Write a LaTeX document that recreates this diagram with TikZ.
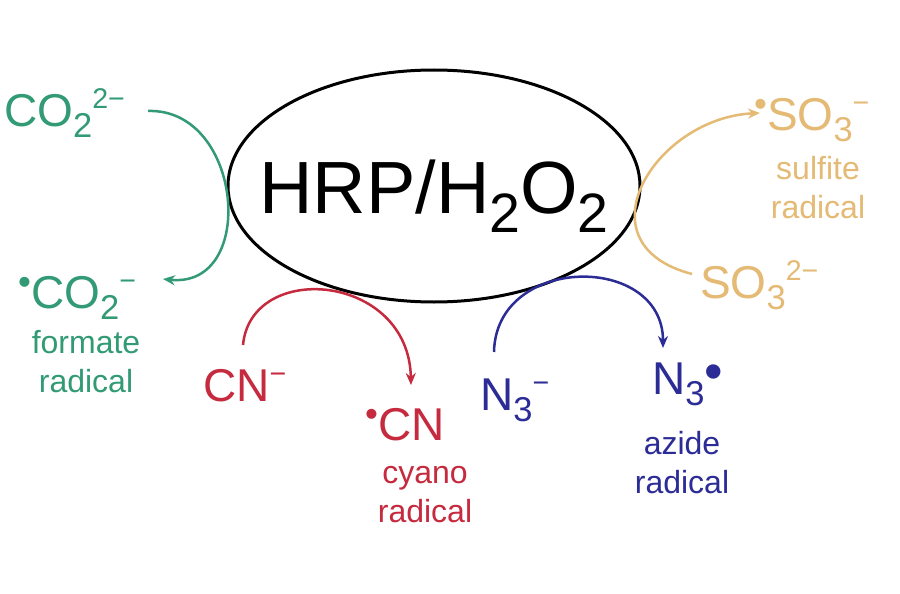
\documentclass[tikz,border=0pt]{standalone}
\usepackage{fontspec}
\setmainfont{Liberation Sans}
\usepackage{graphicx}
\usetikzlibrary{shapes.geometric,arrows.meta}
\definecolor{cgreen}{RGB}{50,154,116}
\definecolor{cred}{RGB}{198,42,62}
\definecolor{cblue}{RGB}{44,44,150}
\definecolor{corange}{RGB}{228,186,116}
\newcommand\sbt[1]{\raisebox{-0.26em}{\scalebox{0.75}{#1}}}
\newcommand\spt[1]{\raisebox{0.38em}{\scalebox{0.62}{#1}}}
\newcommand\rdot{\raisebox{0.3em}{\scalebox{0.8}{•}}}
\begin{document}
\begin{tikzpicture}[x=1pt,y=-1pt,
  species/.style={inner sep=0pt, anchor=base west, font=\fontsize{46}{50}\selectfont},
  lbl/.style={inner sep=0pt, anchor=base, align=center, font=\fontsize{32}{39}\selectfont},
  arr/.style={line width=2.5pt, -{Stealth[length=12pt,width=10pt]}}]
\useasboundingbox (0,0) rectangle (900,594);
\fill[white] (0,0) rectangle (900,594);

% central ellipse
\node[draw, ellipse, line width=3pt, minimum width=412pt, minimum height=232pt, inner sep=0pt] (hrp) at (434,186) {};
\node[inner sep=0pt, anchor=base, font=\fontsize{74}{80}\selectfont] (hrpt) at ([shift={(0,27)}]hrp.center) {HRP/H\sbt{2}O\sbt{2}};

% formate
\node[species, text=cgreen] (co2) at (4,126) {CO\sbt{2}\spt{2−}};
\node[species, text=cgreen] (co2r) at (18,308) {\rdot CO\sbt{2}\spt{−}};
\node[lbl, text=cgreen] (co2l) at (86,392) {formate\\radical};
\draw[arr, cgreen] ([shift={(144,-15)}]co2.base west) .. controls +(95,-3) and +(95,10) .. ([shift={(145,-29)}]co2r.base west);

% cyano
\node[species, text=cred] (cn) at (203,401) {CN\spt{−}};
\node[species, text=cred] (cnr) at (365,440) {\rdot CN};
\node[lbl, text=cred] (cnl) at (425,522) {cyano\\radical};
\draw[arr, cred] ([shift={(40,-56)}]cn.base west) .. controls +(8,-85) and +(-2,-112) .. ([shift={(46,-55)}]cnr.base west);

% azide
\node[species, text=cblue] (n3) at (480,410) {N\sbt{3}\spt{−}};
\node[species, text=cblue] (n3r) at (652,394) {N\sbt{3}\raisebox{0.1em}{\scalebox{1.15}{•}}};
\node[lbl, text=cblue] (n3l) at (682,493) {azide\\radical};
\draw[arr, cblue] ([shift={(14,-58)}]n3.base west) .. controls +(2,-98) and +(0,-95) .. ([shift={(11,-46)}]n3r.base west);

% sulfite
\node[species, text=corange] (so3) at (700,298) {SO\sbt{3}\spt{2−}};
\node[species, text=corange] (so3r) at (754,130) {\rdot SO\sbt{3}\spt{−}};
\node[lbl, text=corange] (so3l) at (818,218) {sulfite\\radical};
\draw[arr, corange] ([shift={(-8,-24)}]so3.base west) .. controls +(-115,-30) and +(-105,5) .. ([shift={(6,-17)}]so3r.base west);
\end{tikzpicture}
\end{document}
